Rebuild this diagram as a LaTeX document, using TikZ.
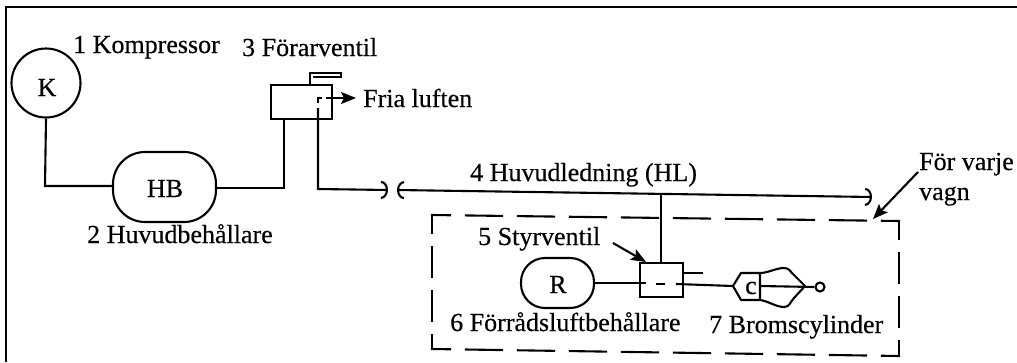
\documentclass[tikz,border=0pt]{standalone}
\usepackage{fontspec}
\setmainfont{Liberation Serif}[RawFeature={embolden=0.4}]
\usetikzlibrary{arrows.meta}
\tikzset{
  wire/.style={line width=2.1pt, line join=miter},
  tank/.style={draw, line width=2.1pt, inner sep=0pt, font=\fontsize{26}{30}\selectfont},
  box/.style={draw, line width=2.1pt, inner sep=0pt, minimum width=#1, rectangle},
  lbl/.style={anchor=base west, inner sep=0pt, font=\fontsize{26}{30}\selectfont},
  capend/.style={-{Arc Barb[length=7pt,width=18pt,arc=180,line width=2.1pt]}},
  capboth/.style={{Arc Barb[length=7pt,width=18pt,arc=180,line width=2.1pt]}-{Arc Barb[length=7pt,width=18pt,arc=180,line width=2.1pt]}},
  fat/.style={-{Stealth[length=15pt,width=12pt,inset=3pt]}, line width=2.1pt},
  ldash/.style={line width=2.1pt, line cap=rect, dash pattern=on 36pt off 16pt, dash phase=18pt},
  vdash/.style={line width=2.1pt, line cap=rect, dash pattern=on 30pt off 14pt, dash phase=12pt},
}
\begin{document}
\begin{tikzpicture}[x=1pt,y=-1pt]
\useasboundingbox (0,0) rectangle (1017,362);
\draw[line width=2.4pt] (1017,7) -- (6,7) -- (6,362);

% tanks
\node[tank,circle,minimum size=69pt] (K) at (46,83) {};
\node[lbl,anchor=base] (Kt) at (47,96) {K};
\node[tank,rectangle,rounded corners=32pt,minimum width=103pt,minimum height=70pt] (HB) at (164.5,187) {};
\node[lbl,anchor=base] (HBt) at (165,197) {HB};
\node[tank,rectangle,rounded corners=24pt,minimum width=73pt,minimum height=50pt] (R) at (557.5,283) {};
\node[lbl,anchor=base] (Rt) at (558,293) {R};

% valves
\node[box=61pt,minimum height=34pt] (FV) at (301.5,102) {};
\node[box=43pt,minimum height=34pt] (SV) at (661.5,280) {};
\draw[wire] (310,85) -- (310,73) -- (341,73) -- (341,77) -- (313,77);
\draw[wire] (322,98) -- (318,98) -- (318,103);
\draw[wire] (326,98) -- (FV.east |- 0,98);
\draw[fat] (FV.east |- 0,98) -- (356,98);
\draw[wire] (656,284) -- (665,284);

% wires
\coordinate (A) at (45,186);
\draw[wire] (K.south) -- (A) -- (HB.west |- A);
\coordinate (B) at (284,188);
\draw[wire] (HB.east |- B) -- (B) -- (B |- FV.south);
\coordinate (C1) at (318,108);
\coordinate (C2) at (318,189);
\coordinate (C3) at (388,190);
\draw[wire,capend] (C1) -- (C2) -- (C3);

\coordinate (HL1) at (397,190);
\coordinate (HL2) at (872,197);
\draw[wire,capboth] (HL1) -- (HL2);
\coordinate (T) at (661,194);
\draw[wire] (T) -- (T |- SV.north);

\coordinate (RR) at (646,283);
\draw[wire] (R.east) -- (RR);
\coordinate (CY) at (733,286);
\draw[wire] (676,284) -- (CY);
\draw[wire] (SV.east |- 0,273) -- (703,273);

% cylinder
\draw[wire,line join=round] (CY) -- (741,273) -- (760,273) -- (760,300) -- (741,300) -- cycle;
\draw[wire,line join=round] (760,273) .. controls (768,273) and (776,268) .. (784,268)
   .. controls (790,268) and (790,272) .. (794,275) -- (805,286)
   -- (794,298) .. controls (790,302) and (790,307) .. (784,307)
   .. controls (776,307) and (768,301) .. (760,300);
\node[draw,circle,line width=2.1pt,minimum size=9pt,inner sep=0pt] (pin) at (820,287) {};
\draw[wire] (760,286) -- (pin.west);
\node[anchor=base,inner sep=0pt,font=\fontsize{26}{30}\selectfont] (ct) at (751,294) {c};

% dashed outline
\coordinate (TL) at (432,215);
\coordinate (TR) at (899,221);
\coordinate (BL) at (432,349);
\coordinate (BR) at (899,356);
\draw[ldash] (TL) -- (TR);
\draw[ldash] (BL) -- (BR);
\draw[vdash] (TL) -- (BL);
\draw[vdash] (TR) -- (BR);

% labels
\node[lbl] (l1) at (73,53) {1 Kompressor};
\node[lbl] (l3) at (242,56) {3 Förarventil};
\node[lbl] (lF) at (363,107) {Fria luften};
\node[lbl] (l2) at (87,243) {2 Huvudbehållare};
\node[lbl] (l4) at (470,181) {4 Huvudledning (HL)};
\node[lbl] (l5) at (478,245) {5 Styrventil};
\node[lbl] (l6) at (450,331) {6 Förrådsluftbehållare};
\node[lbl] (l7) at (709,333) {7 Bromscylinder};
\node[lbl] (l8) at (919,170) {För varje};
\node[lbl] (l9) at (919,200) {vagn};

\coordinate (P5) at (613,243);
\draw[fat] (P5) -- (646,262);
\coordinate (P8) at (918,172);
\draw[fat] (P8) -- (873,219);
\end{tikzpicture}
\end{document}
